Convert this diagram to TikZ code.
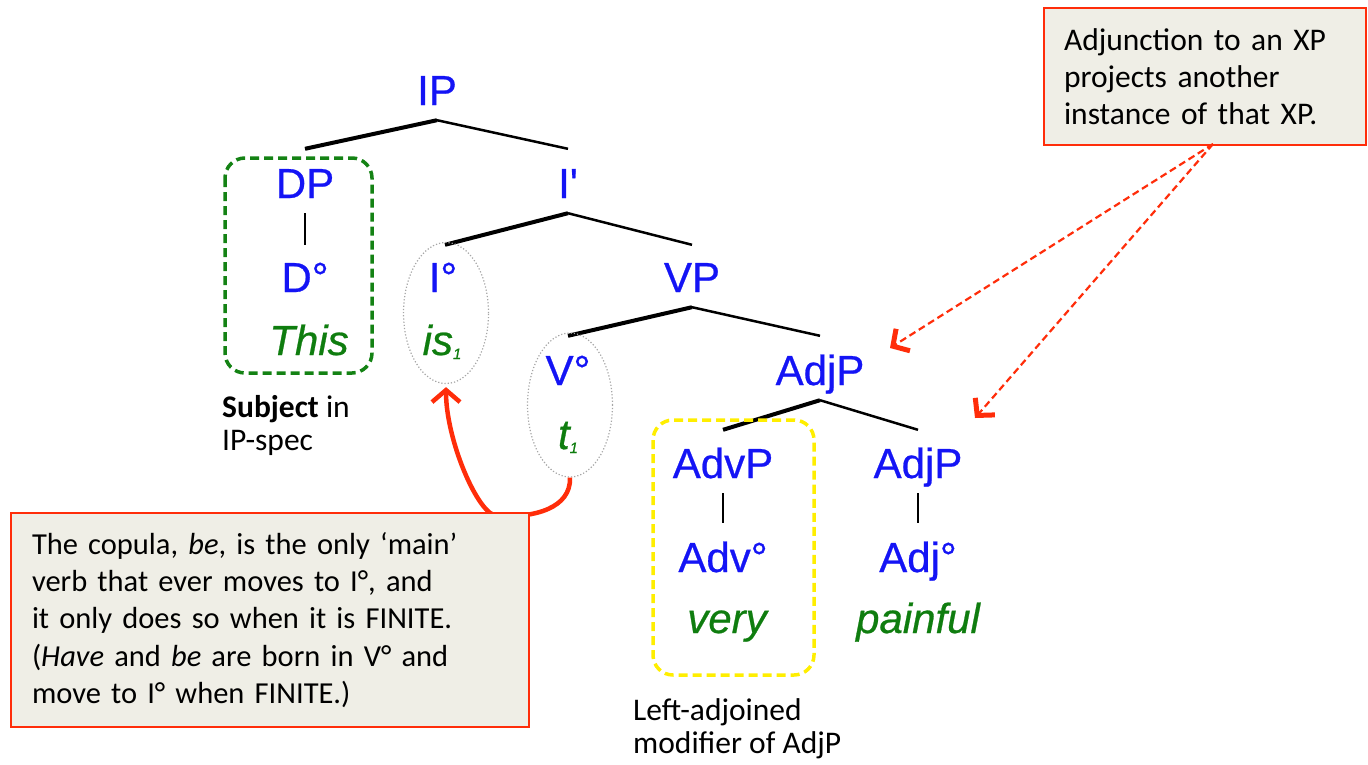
\documentclass[tikz,border=0pt]{standalone}
\usepackage{fontspec}
\setmainfont{Liberation Sans}
\newfontfamily\labfont{Liberation Sans}[FakeBold=0.6]
\newfontfamily\calfont{Carlito}
\usetikzlibrary{arrows.meta,shapes.geometric}
\definecolor{nodeblue}{RGB}{20,20,245}
\definecolor{wordgreen}{RGB}{15,125,15}
\definecolor{boxgreen}{RGB}{20,130,20}
\definecolor{boxyellow}{RGB}{255,238,0}
\definecolor{callred}{RGB}{255,45,10}
\definecolor{callfill}{RGB}{239,238,230}
\begin{document}
\begin{tikzpicture}[x=1pt,y=-1pt,
  lab/.style={text=nodeblue, font=\labfont\fontsize{42}{42}\selectfont, inner sep=0pt, text height=30pt, text depth=0pt, anchor=base},
  word/.style={text=wordgreen, font=\labfont\fontsize{42}{42}\selectfont\itshape, inner sep=0pt, anchor=base},
  lbr/.style={line width=4pt},
  rbr/.style={line width=2.5pt},
  stem/.style={line width=2pt},
  dotell/.style={ellipse, draw=black!35, dotted, line width=1.2pt, inner sep=0pt},
  groupbox/.style={draw, line width=3.5pt, rounded corners=20pt, dash pattern=on 9pt off 5pt},
  note/.style={draw=callred, line width=2pt, fill=callfill, align=left, inner ysep=0pt},
  plain/.style={font=\calfont\fontsize{31.5}{33}\selectfont, align=left, inner sep=0pt},
  movearrow/.style={draw=callred, line width=4.5pt, -{Straight Barb[length=12pt,width=28pt]}},
  dasharrow/.style={draw=callred, line width=2.2pt, dash pattern=on 7pt off 4pt, -{Straight Barb[length=12pt,width=26pt,line width=5pt]}}
]
\useasboundingbox (0,0) rectangle (1368,764);

% tree labels
\node[lab] (IP) at (437,105) {IP};
\node[lab] (DP) at (305,198) {DP};
\node[lab] (Ibar) at (568,198) {I'};
\node[lab] (Dh) at (305,292) {D°};
\node[lab] (Ih) at (443,292) {I°};
\node[lab] (VP) at (692,292) {VP};
\node[word] (This) at (309,355) {This};
\node[word] (is) at (442,355) {is\raisebox{-4pt}{\fontsize{15}{15}\selectfont 1}};
\node[lab] (Vh) at (568,385) {V°};
\node[lab] (AdjPtop) at (820,385) {AdjP};
\node[word] (t) at (568,449) {t\raisebox{-4pt}{\fontsize{15}{15}\selectfont 1}};
\node[lab] (AdvP) at (723,478) {AdvP};
\node[lab] (AdjP) at (918,478) {AdjP};
\node[lab] (Advh) at (723,572) {Adv°};
\node[lab] (Adjh) at (918,572) {Adj°};
\node[word] (very) at (727,633) {very};
\node[word] (painful) at (918,633) {painful};

% branches
\draw[lbr] ([yshift=-15pt]IP.south) -- ([yshift=19pt]DP.north);
\draw[rbr] ([yshift=-15pt]IP.south) -- ([yshift=19pt]Ibar.north);
\draw[lbr] ([yshift=-15pt]Ibar.south) -- ([xshift=2pt,yshift=17pt]Ih.north);
\draw[rbr] ([yshift=-15pt]Ibar.south) -- ([yshift=17pt]VP.north);
\draw[lbr] ([yshift=-15pt]VP.south) -- ([yshift=19pt]Vh.north);
\draw[rbr] ([yshift=-15pt]VP.south) -- ([yshift=19pt]AdjPtop.north);
\draw[lbr] ([yshift=-15pt]AdjPtop.south) -- ([yshift=18pt]AdvP.north);
\draw[rbr] ([yshift=-15pt]AdjPtop.south) -- ([yshift=18pt]AdjP.north);
\draw[stem] ([yshift=-15pt]DP.south) -- ([yshift=17pt]Dh.north);
\draw[stem] ([yshift=-15pt]AdvP.south) -- ([yshift=19pt]Advh.north);
\draw[stem] ([yshift=-15pt]AdjP.south) -- ([yshift=19pt]Adjh.north);

% group boxes and ellipses
\draw[groupbox, draw=boxgreen] (225,158) rectangle (372,373);
\draw[groupbox, draw=boxyellow] (653,420) rectangle (814,675);
\node[dotell, minimum width=85pt, minimum height=141pt] (Iell) at (446,313) {};
\node[dotell, minimum width=85pt, minimum height=144pt] (Vell) at (570,405) {};

% movement arrow (behind the note)
\draw[movearrow] (Vell.south) .. controls (571,508) and (535,518) .. (497,516)
  .. controls (478,515) and (446,440) .. ([yshift=-3pt]Iell.south);

% notes
\node[note, font=\calfont\fontsize{30.5}{37.3}\selectfont, anchor=north west, minimum width=518pt, minimum height=214pt, text width=476pt, inner xsep=21pt] (copula) at (10,512)
  {The copula, \textit{be}, is the only ‘main’\\verb that ever moves to I°, and\\it only does so when it is FINITE.\\(\textit{Have} and \textit{be} are born in V° and\\move to I° when FINITE.)};
\node[note, font=\calfont\fontsize{31.5}{37.3}\selectfont, anchor=north west, minimum width=322pt, minimum height=137pt, text width=282pt, inner xsep=20pt] (adjnote) at (1043,7)
  {Adjunction to an XP\\projects another\\instance of that XP.};

\node[plain, anchor=north west] (subj) at (222,395) {\textbf{Subject} in\\IP-spec};
\node[plain, anchor=north west] (leftadj) at (633,698) {Left-adjoined\\modifier of AdjP};

% adjunction arrows
\coordinate (src) at (1213,144);
\coordinate (tipA) at (890,348);
\coordinate (tipB) at (975,418);
\draw[dasharrow] (src) -- (tipA);
\draw[dasharrow] (src) -- (tipB);
\end{tikzpicture}
\end{document}
